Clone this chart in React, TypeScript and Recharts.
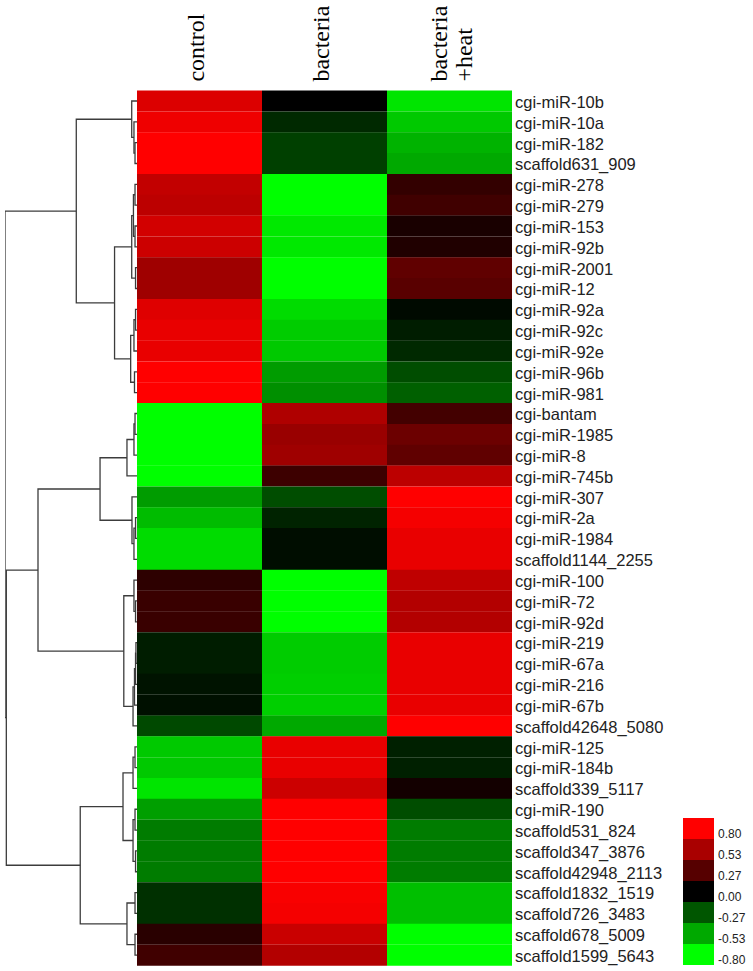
import React from 'react';
import { BarChart, Bar, Cell, XAxis, YAxis, ComposedChart, Line } from 'recharts';

// rows in dendrogram order
const rowNames = [
  'cgi-miR-10b', 'cgi-miR-10a', 'cgi-miR-182', 'scaffold631_909', 'cgi-miR-278', 'cgi-miR-279',
  'cgi-miR-153', 'cgi-miR-92b', 'cgi-miR-2001', 'cgi-miR-12', 'cgi-miR-92a', 'cgi-miR-92c',
  'cgi-miR-92e', 'cgi-miR-96b', 'cgi-miR-981', 'cgi-bantam', 'cgi-miR-1985', 'cgi-miR-8',
  'cgi-miR-745b', 'cgi-miR-307', 'cgi-miR-2a', 'cgi-miR-1984', 'scaffold1144_2255', 'cgi-miR-100',
  'cgi-miR-72', 'cgi-miR-92d', 'cgi-miR-219', 'cgi-miR-67a', 'cgi-miR-216', 'cgi-miR-67b',
  'scaffold42648_5080', 'cgi-miR-125', 'cgi-miR-184b', 'scaffold339_5117', 'cgi-miR-190',
  'scaffold531_824', 'scaffold347_3876', 'scaffold42948_2113', 'scaffold1832_1519',
  'scaffold726_3483', 'scaffold678_5009', 'scaffold1599_5643',
];

const columnLabels = ['control', 'bacteria', 'bacteria\n+heat'];

const controlValues = [
  0.69, 0.75, 0.8, 0.8, 0.61, 0.59, 0.66, 0.64, 0.5, 0.5, 0.7, 0.73, 0.73, 0.8, 0.8,
  -0.8, -0.8, -0.8, -0.8, -0.49, -0.59, -0.69, -0.69, 0.14, 0.18, 0.18, -0.09, -0.09, -0.06, -0.05,
  -0.23, -0.63, -0.63, -0.72, -0.5, -0.39, -0.39, -0.39, -0.15, -0.15, 0.13, 0.2,
];
const bacteriaValues = [
  0.0, -0.13, -0.2, -0.2, -0.8, -0.8, -0.73, -0.73, -0.8, -0.8, -0.69, -0.64, -0.63, -0.49, -0.45,
  0.55, 0.48, 0.5, 0.19, -0.24, -0.11, -0.04, -0.04, -0.8, -0.8, -0.8, -0.64, -0.64, -0.65, -0.65,
  -0.53, 0.73, 0.73, 0.64, 0.8, 0.8, 0.8, 0.8, 0.78, 0.77, 0.63, 0.56,
];
const heatValues = [
  -0.72, -0.63, -0.56, -0.53, 0.16, 0.2, 0.08, 0.1, 0.3, 0.28, -0.03, -0.09, -0.13, -0.24, -0.3,
  0.21, 0.34, 0.3, 0.59, 0.8, 0.77, 0.73, 0.73, 0.6, 0.56, 0.56, 0.73, 0.73, 0.73, 0.73,
  0.8, -0.1, -0.1, 0.06, -0.24, -0.39, -0.39, -0.39, -0.6, -0.6, -0.8, -0.8,
];

// linkage: [left, right, height]; ids >= 42 are earlier merges (42 + k)
const merges: [number, number, number][] = [
  [2, 3, 0.015], [1, 42, 0.023], [0, 43, 0.04],
  [4, 5, 0.015], [6, 7, 0.015], [45, 46, 0.027], [8, 9, 0.011], [47, 48, 0.04],
  [10, 11, 0.011], [50, 12, 0.023], [13, 14, 0.019], [51, 52, 0.048],
  [49, 53, 0.17], [44, 54, 0.46],
  [15, 16, 0.015], [56, 17, 0.023], [57, 18, 0.076],
  [20, 21, 0.011], [59, 22, 0.023], [19, 60, 0.038], [58, 61, 0.28],
  [24, 25, 0.011], [23, 63, 0.023],
  [26, 27, 0.008], [65, 28, 0.011], [66, 29, 0.019], [67, 30, 0.03], [64, 68, 0.1],
  [62, 69, 0.75],
  [31, 32, 0.015], [71, 33, 0.03], [34, 35, 0.015], [36, 37, 0.011], [73, 74, 0.03], [72, 75, 0.106],
  [38, 39, 0.015], [40, 41, 0.015], [77, 78, 0.076], [76, 79, 0.43],
  [70, 80, 0.99], [55, 81, 1.0],
];

const legendValues = [0.8, 0.53, 0.27, 0.0, -0.27, -0.53, -0.8];

const LIMIT = 0.8;
const toColor = (v: number) => {
  const c = Math.round(Math.min(Math.abs(v) / LIMIT, 1) * 255);
  return v >= 0 ? `rgb(${c},0,0)` : `rgb(0,${c},0)`;
};

const W = 753;
const H = 971;
const TOP = 90.6;
const BOTTOM = 965.5;

const heatData = rowNames.map((name) => ({ name, control: 1, bacteria: 1, heat: 1 }));
const legendData = legendValues.map((v) => ({ label: v.toFixed(2), span: 1, v }));

// each merge becomes an elbow: child1 -> up to height -> across -> child2
const buildBranches = () => {
  const pos = rowNames.map((_, i) => ({ h: 0, y: i }));
  return merges.map(([a, b, h]) => {
    const l = pos[a];
    const r = pos[b];
    pos.push({ h, y: (l.y + r.y) / 2 });
    return [
      { h: l.h, y: l.y },
      { h, y: l.y },
      { h, y: r.y },
      { h: r.h, y: r.y },
    ];
  });
};
const branches = buildBranches();

const HeaderTick = (props: any) => {
  const { x, y, payload } = props;
  const lines = columnLabels[Math.floor(payload.value)].split('\n');
  const base = lines.length > 1 ? -2.5 : 4;
  return (
    <g transform={`translate(${x},${y - 9})`}>
      {lines.map((t, j) => (
        <text
          key={j}
          transform="rotate(-90)"
          x={0}
          y={base + j * 25}
          textAnchor="start"
          fontSize={24}
          fontFamily="'Liberation Serif', 'Times New Roman', serif"
          fill="#000"
        >
          {t}
        </text>
      ))}
    </g>
  );
};

export default function App() {
  return (
    <div style={{ position: 'absolute', left: 0, top: 0, width: W, height: H, background: '#fff' }}>
      {/* dendrogram */}
      <div style={{ position: 'absolute', left: 0, top: 0 }}>
        <ComposedChart width={140} height={H} margin={{ top: TOP, bottom: H - BOTTOM, left: 5, right: 3 }}>
          <XAxis type="number" dataKey="h" domain={[0, 1]} reversed hide allowDataOverflow />
          <YAxis type="number" dataKey="y" domain={[-0.5, rowNames.length - 0.5]} reversed hide allowDataOverflow />
          {branches.map((pts, i) => (
            <Line
              key={`br-${i}`}
              data={pts}
              dataKey="y"
              type="linear"
              stroke="#3c3c3c"
              strokeWidth={1.3}
              dot={false}
              activeDot={false}
              isAnimationActive={false}
            />
          ))}
        </ComposedChart>
      </div>

      {/* heatmap */}
      <div style={{ position: 'absolute', left: 137, top: 0 }}>
        <BarChart
          width={W - 137}
          height={H}
          data={heatData}
          layout="vertical"
          barCategoryGap={0}
          barGap={0}
          margin={{ top: TOP - 60, bottom: H - BOTTOM, left: 0, right: 0 }}
        >
          <XAxis
            type="number"
            orientation="top"
            domain={[0, 3]}
            ticks={[0.5, 1.5, 2.5]}
            height={60}
            axisLine={false}
            tickLine={false}
            tickSize={0}
            tickMargin={0}
            tick={<HeaderTick />}
            interval={0}
          />
          <YAxis
            type="category"
            dataKey="name"
            orientation="right"
            width={241}
            axisLine={false}
            tickLine={false}
            tickSize={0}
            tickMargin={3}
            interval={0}
            tick={{ fontSize: 16.5, fill: '#222', fontFamily: "'Liberation Sans', Arial, sans-serif", dy: 1 }}
          />
          <Bar dataKey="control" stackId="s" isAnimationActive={false}>
            {controlValues.map((v, i) => <Cell key={`c-${i}`} fill={toColor(v)} />)}
          </Bar>
          <Bar dataKey="bacteria" stackId="s" isAnimationActive={false}>
            {bacteriaValues.map((v, i) => <Cell key={`b-${i}`} fill={toColor(v)} />)}
          </Bar>
          <Bar dataKey="heat" stackId="s" isAnimationActive={false}>
            {heatValues.map((v, i) => <Cell key={`h-${i}`} fill={toColor(v)} />)}
          </Bar>
        </BarChart>
      </div>

      {/* colour key */}
      <div style={{ position: 'absolute', left: 683, top: 818 }}>
        <BarChart
          width={70}
          height={153}
          data={legendData}
          layout="vertical"
          barCategoryGap={0}
          margin={{ top: 0, bottom: 6, left: 0, right: 0 }}
        >
          <XAxis type="number" domain={[0, 1]} hide />
          <YAxis
            type="category"
            dataKey="label"
            orientation="right"
            width={39}
            axisLine={false}
            tickLine={false}
            tickSize={0}
            tickMargin={4}
            interval={0}
            tick={{ fontSize: 12, fill: '#222', fontFamily: "'Liberation Sans', Arial, sans-serif", dy: 5 }}
          />
          <Bar dataKey="span" isAnimationActive={false}>
            {legendData.map((d, i) => <Cell key={`l-${i}`} fill={toColor(d.v)} />)}
          </Bar>
        </BarChart>
      </div>
    </div>
  );
}
